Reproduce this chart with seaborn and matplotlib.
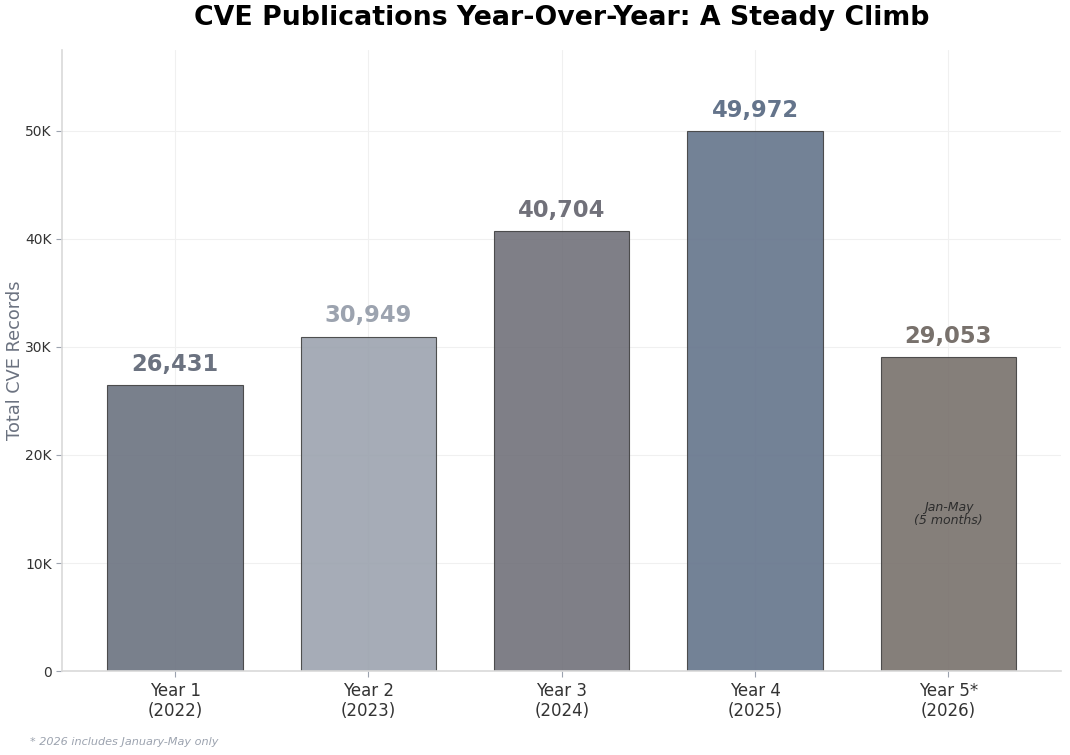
import matplotlib
matplotlib.use("Agg")
import matplotlib.pyplot as plt
import seaborn as sns
import pandas as pd
from matplotlib.ticker import FuncFormatter

categories = ["Year 1\n(2022)", "Year 2\n(2023)", "Year 3\n(2024)", "Year 4\n(2025)", "Year 5*\n(2026)"]
values = [26431, 30949, 40704, 49972, 29053]
label_colors = ["#6b7280", "#9ca3af", "#71717a", "#64748b", "#78716c"]
title = "CVE Publications Year-Over-Year: A Steady Climb"
ylabel = "Total CVE Records"
note_in_bar = "Jan-May\n(5 months)"
footnote = "* 2026 includes January-May only"

sns.set_theme(style="whitegrid")
plt.rcParams['font.family'] = ['DejaVu Sans']

df = pd.DataFrame({"cat": categories, "val": values})

fig, ax = plt.subplots(figsize=(10.7, 7.55), dpi=100)
fig.subplots_adjust(left=0.058, right=0.992, top=0.934, bottom=0.111)

sns.barplot(data=df, x="cat", y="val", hue="cat", palette=label_colors, legend=False,
            saturation=1, width=0.7, alpha=0.9, linewidth=0.8, ax=ax)
for p in ax.patches:
    p.set_edgecolor((0.25, 0.25, 0.25, 0.4))

ymax = max(values) * 1.15
ax.set_ylim(0, ymax)
ax.margins(x=0.05)

for i, (v, c) in enumerate(zip(values, label_colors)):
    ax.text(i, v + ymax * 0.015, f"{v:,}", ha="center", va="bottom",
            fontsize=16.3, fontweight="bold", color=c)

ax.text(4, values[4] / 2, note_in_bar, ha="center", va="center",
        fontsize=9, fontstyle="italic", color="#2d2d2d", linespacing=1.05)

ax.yaxis.set_major_formatter(FuncFormatter(lambda x, _: "0" if x == 0 else f"{int(x/1000)}K"))
ax.set_xlabel("")
ax.set_ylabel(ylabel, fontsize=12.8, color="#6b7280", va="center")
ax.yaxis.set_label_coords(-0.047, 0.5)
ax.tick_params(axis="x", labelsize=12, colors="#333333", length=4, width=0.8, color="#9ca3af", bottom=True)
ax.tick_params(axis="y", labelsize=10, colors="#333333", length=4, width=0.8, color="#9ca3af", left=True)

ax.grid(True, color="#f0f0f0", linewidth=0.8)
ax.set_axisbelow(True)
ax.set_facecolor("white")
for s in ["top", "right"]:
    ax.spines[s].set_visible(False)
for s in ["left", "bottom"]:
    ax.spines[s].set_color("#d9d9d9")
    ax.spines[s].set_linewidth(1.2)

fig.suptitle(title, fontsize=19.3, fontweight="bold", color="black", y=0.993, x=0.525)
fig.text(0.028, 0.013, footnote, fontsize=8.1, fontstyle="italic", color="#9ca3af")

fig.savefig("out.png", dpi=100, facecolor="white")
